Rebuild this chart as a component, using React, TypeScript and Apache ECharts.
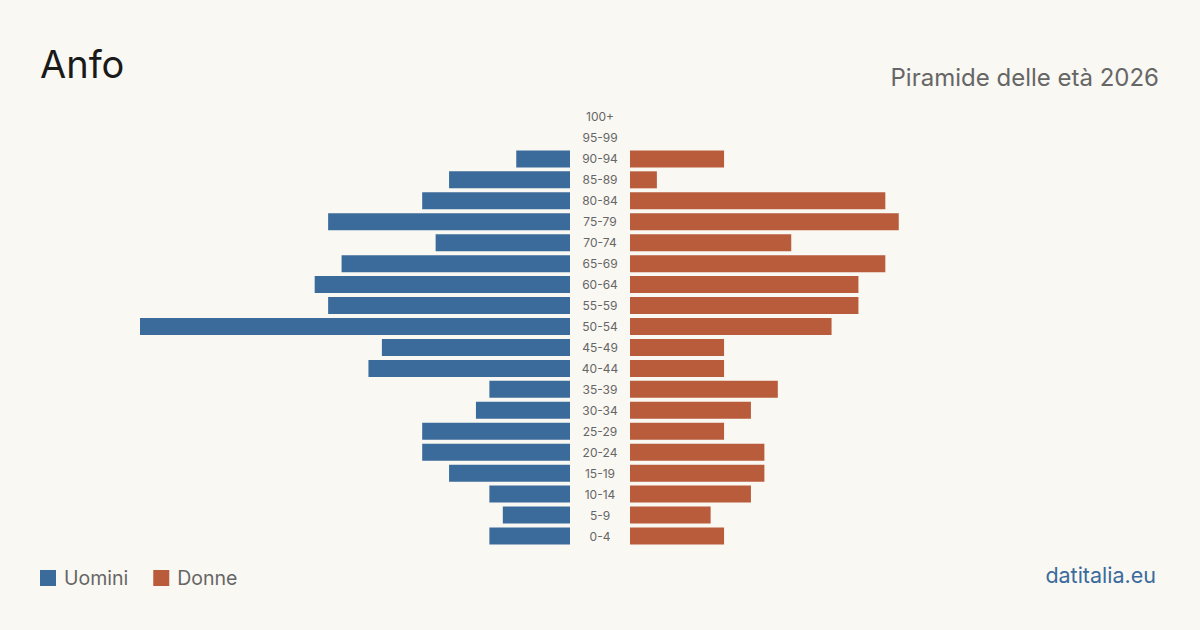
import React, { useEffect, useRef } from "react";
import * as echarts from "echarts";

const ages = ["0-4","5-9","10-14","15-19","20-24","25-29","30-34","35-39","40-44","45-49","50-54","55-59","60-64","65-69","70-74","75-79","80-84","85-89","90-94","95-99","100+"];
const men = [6,5,6,9,11,11,7,6,15,14,32,18,19,17,10,18,11,9,4,0,0];
const women = [7,6,9,10,10,7,9,11,7,7,15,17,17,19,12,20,19,2,7,0,0];
const axisMax = 32;

const BLUE = "#3b6b9b";
const ORANGE = "#b95c3c";
const FONT = "Inter, 'Noto Sans', sans-serif";

export default function App() {
  const ref = useRef<HTMLDivElement>(null);
  useEffect(() => {
    document.body.style.margin = "0";
    const chart = echarts.init(ref.current!, null, { renderer: "svg" });
    chart.setOption({
      animation: false,
      backgroundColor: "#faf8f3",
      textStyle: { fontFamily: FONT },
      title: [
        { text: "Anfo", left: 35, top: 40, textStyle: { fontSize: 38, fontWeight: "normal", color: "#1a1a1a", fontFamily: FONT } },
        { text: "Piramide delle età 2026", right: 36, top: 60, textStyle: { fontSize: 24, fontWeight: "normal", color: "#666666", fontFamily: FONT } },
        { text: "datitalia.eu", right: 39, top: 559, textStyle: { fontSize: 21.5, fontWeight: "normal", color: BLUE, fontFamily: FONT } },
      ],
      legend: {
        left: 40, top: 568, padding: 0, itemWidth: 16, itemHeight: 16, itemGap: 25, icon: "rect",
        textStyle: { fontSize: 19.5, color: "#666666", fontFamily: FONT, padding: [0, 0, 0, 3] },
        data: ["Uomini", "Donne"],
      },
      grid: [
        { left: 140, width: 430, top: 106.5, height: 440 },
        { left: 630, width: 430, top: 106.5, height: 440 },
      ],
      xAxis: [
        { type: "value", gridIndex: 0, inverse: true, min: 0, max: axisMax, show: false },
        { type: "value", gridIndex: 1, min: 0, max: axisMax, show: false },
      ],
      yAxis: [
        {
          type: "category", gridIndex: 0, data: ages, position: "right",
          axisLine: { show: false }, axisTick: { show: false },
          axisLabel: { align: "center", margin: 30, fontSize: 12, color: "#666666", fontFamily: FONT },
        },
        {
          type: "category", gridIndex: 1, data: ages, show: false,
        },
      ],
      series: [
        { name: "Uomini", type: "bar", xAxisIndex: 0, yAxisIndex: 0, data: men, barWidth: 17, itemStyle: { color: BLUE } },
        { name: "Donne", type: "bar", xAxisIndex: 1, yAxisIndex: 1, data: women, barWidth: 17, itemStyle: { color: ORANGE } },
      ],
    });
    return () => chart.dispose();
  }, []);
  return <div ref={ref} style={{ width: 1200, height: 630 }} />;
}
